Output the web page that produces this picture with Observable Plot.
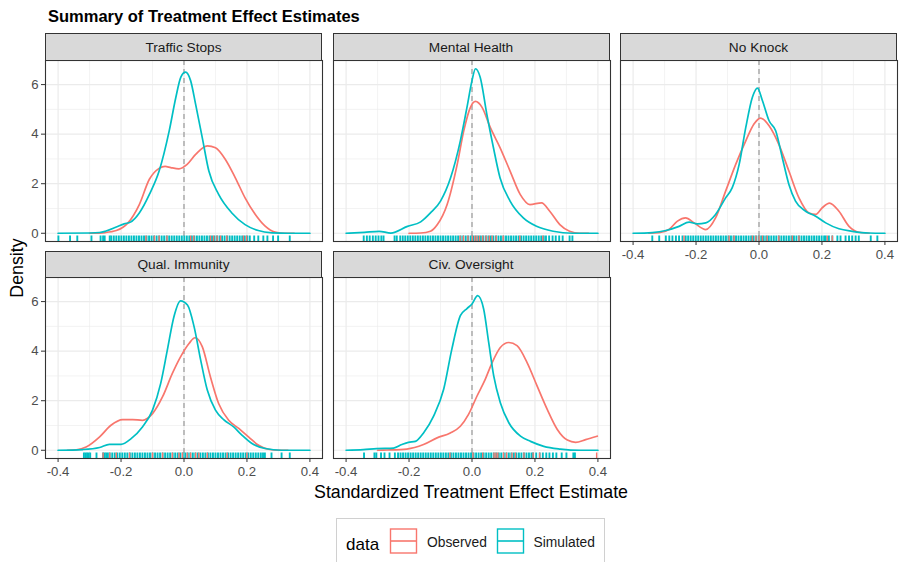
<!DOCTYPE html>
<html><head><meta charset="utf-8">
<script src="https://cdn.jsdelivr.net/npm/d3@7"></script>
<script src="https://cdn.jsdelivr.net/npm/@observablehq/plot@0.6"></script>
<style>
body{margin:0;background:#fff;font-family:"Liberation Sans",Arial,sans-serif;}
#wrap{position:relative;width:899px;height:562px;overflow:hidden;background:#fff;}
.strip{position:absolute;box-sizing:border-box;background:#d9d9d9;border:1px solid #333;color:#1a1a1a;font-size:13.7px;display:flex;align-items:center;justify-content:center;}
#wrap svg.plotpanel{position:absolute;}
</style></head>
<body><div id="wrap"></div>
<script>
// ---------- data ----------
const panelNames = ["Traffic Stops","Mental Health","No Knock","Qual. Immunity","Civ. Oversight"];
const seriesNames = ["Observed","Simulated"];
const seriesColors = ["#F8766D","#00BFC4"];
const xTicks = [-0.4,-0.2,0,0.2,0.4];
const xMinor = [-0.3,-0.1,0.1,0.3];
const yTicks = [0,2,4,6];
const yMinor = [1,3,5];

// Traffic Stops
const trafficObsX = [-0.3,-0.25,-0.215,-0.178,-0.142,-0.11,-0.079,-0.06,-0.042,-0.016,0.01,0.037,0.074,0.1,0.131,0.163,0.194,0.226,0.257,0.289,0.32,0.35];
const trafficObsY = [0,0.03,0.11,0.42,1.16,2.18,2.62,2.7,2.65,2.6,2.78,3.18,3.53,3.45,2.99,2.24,1.43,0.77,0.3,0.05,0,0];
const trafficSimX = [-0.4,-0.3,-0.268,-0.25,-0.215,-0.19,-0.17,-0.142,-0.11,-0.079,-0.047,-0.026,-0.01,0.005,0.021,0.037,0.058,0.079,0.11,0.152,0.194,0.236,0.28,0.33,0.4];
const trafficSimY = [0,0.01,0.03,0.08,0.25,0.38,0.45,0.82,1.57,2.51,4.13,5.48,6.3,6.5,6.16,5.2,3.86,2.51,1.57,0.82,0.35,0.11,0.02,0,0];
const trafficObsRug = [-0.121,-0.094,-0.079,-0.054,0.021,0.031,0.084,0.094,0.105,0.116,0.136,0.189,0.199];
const trafficSimRug = [-0.399,-0.362,-0.339,-0.294,-0.265,-0.257,-0.252,-0.236,
 -0.231,-0.223,-0.215,-0.207,-0.199,-0.191,-0.183,-0.175,-0.167,-0.159,-0.151,-0.143,-0.135,-0.127,-0.119,-0.111,-0.103,-0.095,-0.087,-0.079,-0.071,-0.063,-0.055,-0.047,-0.039,-0.031,-0.023,-0.015,-0.007,0.001,0.009,0.017,0.025,0.033,0.041,0.049,0.057,0.065,0.073,0.081,0.089,0.097,0.105,0.113,0.121,0.129,0.137,0.145,0.153,0.161,0.169,0.177,0.185,0.193,0.201,0.209,
 0.223,0.236,0.252,0.265,0.283,0.299,0.336];

// Mental Health
const mentalObsX = [-0.2,-0.163,-0.132,-0.11,-0.079,-0.047,-0.026,-0.005,0.011,0.032,0.058,0.089,0.121,0.153,0.184,0.221,0.247,0.279,0.31,0.342,0.37];
const mentalObsY = [0,0.01,0.08,0.35,1.16,2.78,4.14,5.08,5.32,5.08,4.27,3.46,2.51,1.57,1.16,1.23,0.89,0.35,0.08,0,0];
const mentalSimX = [-0.4,-0.342,-0.295,-0.258,-0.205,-0.163,-0.132,-0.1,-0.068,-0.037,-0.016,0,0.011,0.026,0.047,0.068,0.089,0.121,0.163,0.205,0.258,0.32,0.4];
const mentalSimY = [0,0.04,0.08,0.01,0.28,0.46,0.82,1.3,2.24,3.73,5.08,6.16,6.64,6.3,4.81,3.46,2.24,1.3,0.62,0.28,0.08,0,0];
const mentalObsRug = [-0.038,-0.027,-0.013,0.001,0.009,0.016,0.024,0.034,0.045,0.055,0.064,0.077,0.099,0.152,0.225];
const mentalSimRug = [-0.344,-0.334,-0.325,-0.315,-0.306,-0.297,-0.288,-0.281,-0.246,-0.239,
 -0.228,-0.22,-0.212,-0.204,-0.196,-0.188,-0.18,-0.172,-0.164,-0.156,-0.148,-0.14,-0.132,-0.124,-0.116,-0.108,-0.1,-0.092,-0.084,-0.076,-0.068,-0.06,-0.052,-0.044,-0.036,-0.028,-0.02,-0.012,-0.004,0.004,0.012,0.02,0.028,0.036,0.044,0.052,0.06,0.068,0.076,0.084,0.092,0.1,0.108,0.116,0.124,0.132,0.14,0.148,0.156,0.164,0.172,0.18,0.188,0.196,0.204,0.212,0.22,0.228,0.235,
 0.245,0.256,0.266,0.277,0.288,0.31,0.319];

// No Knock
const knockObsX = [-0.35,-0.317,-0.286,-0.259,-0.233,-0.206,-0.169,-0.138,-0.106,-0.074,-0.042,-0.016,0.005,0.032,0.063,0.095,0.127,0.159,0.18,0.201,0.224,0.254,0.286,0.317,0.35];
const knockObsY = [0,0.02,0.15,0.49,0.62,0.42,0.15,0.62,1.7,2.78,3.73,4.41,4.65,4.34,3.59,2.51,1.43,0.82,0.76,1.03,1.22,0.89,0.28,0.04,0];
const knockSimX = [-0.4,-0.339,-0.296,-0.254,-0.222,-0.196,-0.169,-0.138,-0.106,-0.085,-0.063,-0.042,-0.021,-0.005,0.011,0.032,0.053,0.074,0.095,0.116,0.148,0.18,0.212,0.254,0.296,0.349,0.4];
const knockSimY = [0,0.03,0.11,0.28,0.45,0.38,0.42,0.76,1.43,1.84,2.78,4.27,5.49,5.86,5.35,4.54,4.14,3.05,1.97,1.3,0.89,0.69,0.42,0.18,0.08,0.01,0];
const knockObsRug = [-0.238,-0.095,-0.079,-0.021,-0.01,0,0.011,0.026,0.063,0.106,0.127,0.217,0.233];
const knockSimRug = [-0.339,-0.317,-0.296,-0.285,-0.275,-0.264,-0.254,-0.243,
 -0.233,-0.225,-0.217,-0.209,-0.201,-0.193,-0.185,-0.177,-0.169,-0.161,-0.153,-0.145,-0.137,-0.129,-0.121,-0.113,-0.105,-0.097,-0.089,-0.081,-0.073,-0.065,-0.057,-0.049,-0.041,-0.033,-0.025,-0.017,-0.009,-0.001,0.007,0.015,0.023,0.031,0.039,0.047,0.055,0.063,0.071,0.079,0.087,0.095,0.103,0.111,0.119,0.127,0.135,0.143,0.151,0.159,0.167,0.175,0.183,0.191,0.199,0.207,0.212,
 0.222,0.233,0.249,0.259,0.275,0.286,0.296,0.307,0.317,0.355,0.376];

// Qual. Immunity
const qualObsX = [-0.37,-0.342,-0.311,-0.268,-0.232,-0.195,-0.163,-0.132,-0.1,-0.068,-0.037,-0.011,0.016,0.035,0.058,0.084,0.11,0.142,0.174,0.205,0.237,0.268,0.3,0.33];
const qualObsY = [0,0.02,0.13,0.54,1.01,1.24,1.24,1.21,1.48,2.16,3.1,3.77,4.31,4.54,4.18,2.96,1.89,1.21,0.88,0.54,0.2,0.04,0,0];
const qualSimX = [-0.4,-0.321,-0.268,-0.237,-0.2,-0.168,-0.132,-0.1,-0.074,-0.053,-0.032,-0.011,0.011,0.032,0.053,0.074,0.1,0.126,0.158,0.184,0.216,0.258,0.31,0.4];
const qualSimY = [0,0.03,0.11,0.24,0.24,0.47,0.94,1.62,2.7,4.04,5.39,6.03,5.86,4.99,3.64,2.43,1.62,1.24,0.94,0.61,0.27,0.07,0,0];
const qualObsRug = [-0.257,-0.236,-0.215,-0.173,-0.1,-0.068,-0.037,-0.016,-0.005,0.01,0.021,0.037,0.047,0.074,0.137,0.2];
const qualSimRug = [-0.318,-0.313,-0.308,-0.303,-0.298,-0.278,-0.257,-0.252,-0.247,-0.242,
 -0.236,-0.228,-0.22,-0.212,-0.204,-0.196,-0.188,-0.18,-0.172,-0.164,-0.156,-0.148,-0.14,-0.132,-0.124,-0.116,-0.108,-0.1,-0.092,-0.084,-0.076,-0.068,-0.06,-0.052,-0.044,-0.036,-0.028,-0.02,-0.012,-0.004,0.004,0.012,0.02,0.028,0.036,0.044,0.052,0.06,0.068,0.076,0.084,0.092,0.1,0.108,0.116,0.124,0.132,0.14,0.148,0.156,0.164,0.172,0.18,0.188,0.196,0.204,0.212,0.22,0.228,0.236,0.244,0.251,0.257,
 0.278,0.31,0.336];

// Civ. Oversight
const civObsX = [-0.3,-0.27,-0.207,-0.154,-0.111,-0.069,-0.037,-0.011,0.016,0.042,0.064,0.09,0.117,0.143,0.175,0.207,0.239,0.271,0.303,0.329,0.361,0.398];
const civObsY = [0,0.01,0.05,0.23,0.5,0.7,0.97,1.45,2.19,2.86,3.54,4.15,4.35,4.22,3.54,2.59,1.65,0.84,0.41,0.32,0.43,0.57];
const civSimX = [-0.4,-0.345,-0.303,-0.249,-0.223,-0.202,-0.18,-0.154,-0.122,-0.09,-0.064,-0.037,-0.016,0,0.018,0.037,0.053,0.069,0.09,0.117,0.154,0.186,0.228,0.281,0.345,0.4];
const civSimY = [0,0.03,0.07,0.09,0.23,0.32,0.36,0.7,1.38,2.46,4.08,5.43,5.72,5.9,6.24,5.7,4.35,3.0,1.92,1.11,0.57,0.36,0.16,0.05,0,0];
const civObsRug = [-0.07,0.003,0.034,0.07,0.076,0.082,0.1,0.11,0.127,0.138,0.165,0.194,0.215,0.396];
const civSimRug = [-0.343,-0.31,-0.304,-0.289,-0.278,-0.262,-0.245,
 -0.235,-0.227,-0.219,-0.211,-0.203,-0.195,-0.187,-0.179,-0.171,-0.163,-0.155,-0.147,-0.139,-0.131,-0.123,-0.115,-0.107,-0.099,-0.091,-0.083,-0.075,-0.067,-0.059,-0.051,-0.043,-0.035,-0.027,-0.019,-0.011,-0.003,0.005,0.013,0.021,0.029,0.037,0.045,0.053,0.061,0.069,0.077,0.085,0.093,0.101,0.109,0.117,0.125,0.133,0.141,0.149,0.157,0.165,0.173,0.181,0.189,0.194,
 0.204,0.215,0.225,0.236,0.246,0.257,0.268,0.285,0.3,0.322,0.327];

// ---------- layout / styles ----------
const colLeft = [45, 332.5, 620];
const panelW = 277, panelH = 181;
const rowTop = [60, 277];
const stripTop = [33, 250.5];
const xDomain = [-0.44, 0.44];
const yDomain = [-0.332, 6.972];

const panels = [
  {name: panelNames[0], col: 0, row: 0, obs: [trafficObsX, trafficObsY], sim: [trafficSimX, trafficSimY], obsRug: trafficObsRug, simRug: trafficSimRug, showX: false, showY: true},
  {name: panelNames[1], col: 1, row: 0, obs: [mentalObsX, mentalObsY], sim: [mentalSimX, mentalSimY], obsRug: mentalObsRug, simRug: mentalSimRug, showX: false, showY: false},
  {name: panelNames[2], col: 2, row: 0, obs: [knockObsX, knockObsY], sim: [knockSimX, knockSimY], obsRug: knockObsRug, simRug: knockSimRug, showX: true, showY: false},
  {name: panelNames[3], col: 0, row: 1, obs: [qualObsX, qualObsY], sim: [qualSimX, qualSimY], obsRug: qualObsRug, simRug: qualSimRug, showX: true, showY: true},
  {name: panelNames[4], col: 1, row: 1, obs: [civObsX, civObsY], sim: [civSimX, civSimY], obsRug: civObsRug, simRug: civSimRug, showX: true, showY: false}
];

const wrap = document.getElementById("wrap");
const toRows = ([xs, ys]) => xs.map((x, i) => ({x, y: ys[i]}));

for (const p of panels) {
  const marks = [
    Plot.gridX(xMinor, {stroke: "#ebebeb", strokeOpacity: 1, strokeWidth: 0.6}),
    Plot.gridY(yMinor, {stroke: "#ebebeb", strokeOpacity: 1, strokeWidth: 0.6}),
    Plot.gridX(xTicks, {stroke: "#ebebeb", strokeOpacity: 1, strokeWidth: 1.2}),
    Plot.gridY(yTicks, {stroke: "#ebebeb", strokeOpacity: 1, strokeWidth: 1.2}),
    Plot.ruleX([0], {stroke: "#999999", strokeWidth: 1.2, strokeDasharray: "5,4"}),
    Plot.line(toRows(p.obs), {x: "x", y: "y", stroke: seriesColors[0], strokeWidth: 1.7, curve: "monotone-x"}),
    Plot.line(toRows(p.sim), {x: "x", y: "y", stroke: seriesColors[1], strokeWidth: 1.7, curve: "monotone-x"}),
    Plot.ruleX(p.simRug, {stroke: seriesColors[1], strokeWidth: 1.9, insetTop: panelH - 5.5}),
    Plot.ruleX(p.obsRug, {stroke: seriesColors[0], strokeWidth: 1.4, insetTop: panelH - 5.5}),
    Plot.frame({stroke: "#333333", strokeWidth: 1.1})
  ];
  if (p.showX) marks.push(Plot.axisX(xTicks, {label: null, tickSize: 4, tickPadding: 4, tickFormat: d => d.toFixed(1), stroke: "#333333", fill: "#4d4d4d", fontSize: 13.2}));
  if (p.showY) marks.push(Plot.axisY(yTicks, {label: null, tickSize: 4, tickPadding: 3, tickFormat: d => String(d), stroke: "#333333", fill: "#4d4d4d", fontSize: 13.2}));
  const svg = Plot.plot({
    width: panelW, height: panelH,
    marginTop: 0, marginRight: 0, marginBottom: 0, marginLeft: 0,
    x: {domain: xDomain, axis: null, label: null},
    y: {domain: yDomain, axis: null, label: null},
    style: {background: "transparent", overflow: "visible", fontFamily: "'Liberation Sans', Arial, sans-serif", fontSize: "13.2px"},
    marks
  });
  svg.classList.add("plotpanel");
  svg.style.left = colLeft[p.col] + "px";
  svg.style.top = rowTop[p.row] + "px";
  svg.style.maxWidth = "none";
  wrap.appendChild(svg);

  const strip = document.createElement("div");
  strip.className = "strip";
  strip.textContent = p.name;
  strip.style.left = colLeft[p.col] + "px";
  strip.style.top = stripTop[p.row] + "px";
  strip.style.width = panelW + "px";
  strip.style.height = (rowTop[p.row] - stripTop[p.row] + 1) + "px";
  wrap.appendChild(strip);
}

// ---------- titles & legend ----------
const ns = "http://www.w3.org/2000/svg";
const ov = document.createElementNS(ns, "svg");
ov.setAttribute("width", 899); ov.setAttribute("height", 562);
ov.style.cssText = "position:absolute;left:0;top:0;pointer-events:none;font-family:'Liberation Sans',Arial,sans-serif;";
function txt(s, x, y, attrs) {
  const t = document.createElementNS(ns, "text");
  t.textContent = s; t.setAttribute("x", x); t.setAttribute("y", y);
  for (const k in attrs) t.setAttribute(k, attrs[k]);
  ov.appendChild(t); return t;
}
function el(name, attrs) {
  const e = document.createElementNS(ns, name);
  for (const k in attrs) e.setAttribute(k, attrs[k]);
  ov.appendChild(e); return e;
}
txt("Summary of Treatment Effect Estimates", 48, 21.5, {"font-size": 16.5, "font-weight": "bold", fill: "#000"});
txt("Density", 0, 0, {"font-size": 17.8, fill: "#000", "text-anchor": "middle", transform: "translate(22.5,268) rotate(-90)"});
txt("Standardized Treatment Effect Estimate", 471, 498, {"font-size": 17.8, fill: "#000", "text-anchor": "middle"});
el("rect", {x: 336.5, y: 518.5, width: 268, height: 60, fill: "#fff", stroke: "#d0d0d0", "stroke-width": 1});
txt("data", 346, 550, {"font-size": 17, fill: "#000"});
const keyX = [390.5, 497.5];
const labX = [427, 533.5];
seriesNames.forEach((s, i) => {
  el("rect", {x: keyX[i], y: 529, width: 26, height: 24, fill: "#fff", stroke: seriesColors[i], "stroke-width": 1.4});
  el("line", {x1: keyX[i], x2: keyX[i] + 26, y1: 541, y2: 541, stroke: seriesColors[i], "stroke-width": 1.6});
  txt(s, labX[i], 546.5, {"font-size": 13.8, fill: "#1a1a1a"});
});
wrap.appendChild(ov);
</script>
</body></html>
